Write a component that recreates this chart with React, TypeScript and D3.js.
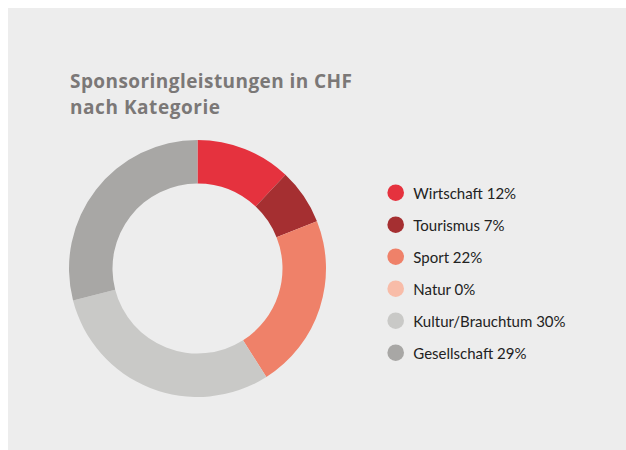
import React, { useEffect, useRef } from "react";
import * as d3 from "d3";

const categories = ["Wirtschaft", "Tourismus", "Sport", "Natur", "Kultur/Brauchtum", "Gesellschaft"];
const shares = [12, 7, 22, 0, 30, 29];
const colors = ["#e5323e", "#a52f31", "#ef8169", "#f8bca8", "#c9c9c7", "#a8a7a5"];
const titleLines = ["Sponsoringleistungen in CHF", "nach Kategorie"];
const titleWidths = [282, 150];

const App = () => {
    const ref = useRef<SVGSVGElement>(null);

    useEffect(() => {
        document.body.style.overflow = "hidden";

        // svg covers the whole window, the grey panel starts where the body margin ends
        const width = 626, height = 450, inset = 8;
        const svg = d3.select(ref.current);
        svg.selectAll("*").remove();

        const g = svg.append("g").attr("transform", "translate(" + inset + "," + inset + ")");

        g.append("rect")
            .attr("width", width - inset)
            .attr("height", height - inset)
            .attr("fill", "#ededed");

        // title
        g.append("g")
            .selectAll("text")
            .data(titleLines)
            .enter()
            .append("text")
            .attr("x", 62)
            .attr("y", (d, i) => 79.5 + i * 26)
            .attr("font-family", "'Open Sans', Lato, sans-serif")
            .attr("font-weight", 700)
            .attr("font-size", 19)
            .attr("fill", "#7b7877")
            .attr("textLength", (d, i) => titleWidths[i])
            .attr("lengthAdjust", "spacing")
            .text(d => d);

        // donut
        const pie = d3.pie<number>().sort(null).value(d => d);
        const arc = d3.arc<d3.PieArcDatum<number>>().innerRadius(85).outerRadius(128.5);

        g.append("g")
            .attr("transform", "translate(189.5,260.5)")
            .selectAll("path")
            .data(pie(shares))
            .enter()
            .append("path")
            .attr("d", arc)
            .attr("fill", (d, i) => colors[i]);

        // legend
        const y = d3.scalePoint<string>().domain(categories).range([184.7, 344.7]);
        const rows = g.append("g")
            .selectAll("g")
            .data(categories)
            .enter()
            .append("g")
            .attr("transform", d => "translate(0," + y(d) + ")");

        rows.append("circle")
            .attr("cx", 387.7)
            .attr("r", 8.3)
            .attr("fill", (d, i) => colors[i]);

        rows.append("text")
            .attr("x", 405.3)
            .attr("y", 5.8)
            .attr("font-family", "Lato, 'Open Sans', sans-serif")
            .attr("font-size", 15)
            .attr("fill", "#222222")
            .text((d, i) => d + " " + shares[i] + "%");
    }, []);

    return (
        <svg ref={ref} width={626} height={450}
            style={{ display: "block", position: "absolute", left: 0, top: 0 }}></svg>
    );
};

export default App;
